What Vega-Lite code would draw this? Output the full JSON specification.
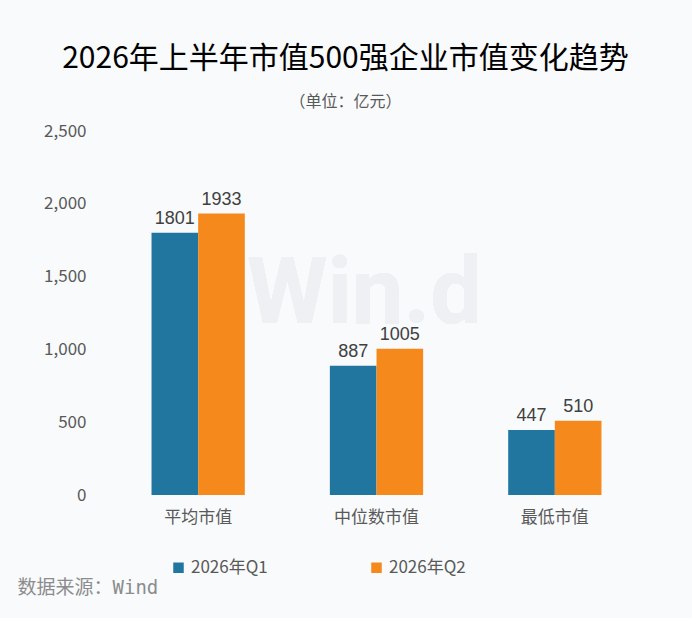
{
  "$schema": "https://vega.github.io/schema/vega-lite/v6.json",
  "width": 535,
  "height": 364,
  "autosize": "none",
  "padding": {"left": 109, "top": 131, "right": 48, "bottom": 123},
  "background": "#f8fafc",
  "config": {"view": {"stroke": null}},
  "title": {
    "text": "2026年上半年市值500强企业市值变化趋势",
    "subtitle": "（单位：亿元）",
    "anchor": "middle",
    "frame": "group",
    "dx": -31,
    "offset": 12,
    "font": "Noto Sans CJK SC",
    "fontSize": 30,
    "fontWeight": "normal",
    "color": "#000000",
    "subtitleFont": "Noto Sans CJK SC",
    "subtitleFontSize": 16,
    "subtitleColor": "#595959",
    "subtitlePadding": 20
  },
  "data": {
    "values": [
      {"category": "平均市值", "period": "2026年Q1", "value": 1801},
      {"category": "平均市值", "period": "2026年Q2", "value": 1933},
      {"category": "中位数市值", "period": "2026年Q1", "value": 887},
      {"category": "中位数市值", "period": "2026年Q2", "value": 1005},
      {"category": "最低市值", "period": "2026年Q1", "value": 447},
      {"category": "最低市值", "period": "2026年Q2", "value": 510}
    ]
  },
  "encoding": {
    "x": {
      "field": "category",
      "type": "nominal",
      "sort": ["平均市值", "中位数市值", "最低市值"],
      "scale": {"paddingInner": 0.477, "paddingOuter": 0.2385},
      "axis": {
        "title": "数据来源：Wind",
        "titleFont": "DejaVu Sans Mono, Noto Sans CJK SC",
        "titleFontSize": 19,
        "titleFontWeight": "normal",
        "titleColor": "#8c8c8c",
        "titleAnchor": "start",
        "titleAlign": "left",
        "titleBaseline": "middle",
        "titleX": -92,
        "titleY": 92,
        "labelAngle": 0,
        "labelFont": "Noto Sans CJK SC",
        "labelFontSize": 17,
        "labelColor": "#595959",
        "labelPadding": 14,
        "ticks": false,
        "domain": false,
        "grid": false
      }
    },
    "y": {
      "field": "value",
      "type": "quantitative",
      "scale": {"domain": [0, 2500], "nice": false},
      "axis": {
        "title": null,
        "values": [0, 500, 1000, 1500, 2000, 2500],
        "format": ",d",
        "labelFont": "Noto Sans CJK SC",
        "labelFontSize": 17,
        "labelColor": "#595959",
        "labelPadding": 23,
        "ticks": false,
        "domain": false,
        "grid": false
      }
    }
  },
  "layer": [
    {
      "mark": {
        "type": "text",
        "text": "Win.d",
        "font": "Roboto",
        "fontSize": 92,
        "fontWeight": "bold",
        "color": "#eef0f3",
        "align": "center",
        "baseline": "middle",
        "dx": -12,
        "dy": 4
      },
      "encoding": {
        "x": {"datum": "中位数市值"},
        "y": {"datum": 1400}
      }
    },
    {
      "mark": {"type": "bar"},
      "encoding": {
        "xOffset": {"field": "period", "type": "nominal"},
        "color": {
          "field": "period",
          "type": "nominal",
          "scale": {"domain": ["2026年Q1", "2026年Q2"], "range": ["#21769f", "#f5891c"]},
          "legend": {
            "title": null,
            "orient": "none",
            "direction": "horizontal",
            "legendX": 61,
            "legendY": 428,
            "symbolType": "square",
            "symbolSize": 110,
            "symbolStrokeWidth": 0,
            "symbolOpacity": 1,
            "labelFont": "Noto Sans CJK SC",
            "labelFontSize": 17,
            "labelColor": "#595959",
            "labelOffset": 4,
            "columnPadding": 100
          }
        }
      }
    },
    {
      "mark": {
        "type": "text",
        "baseline": "bottom",
        "dy": -5,
        "font": "Liberation Sans",
        "fontSize": 18,
        "color": "#404040"
      },
      "encoding": {
        "xOffset": {"field": "period", "type": "nominal"},
        "text": {"field": "value", "type": "quantitative"}
      }
    }
  ]
}
